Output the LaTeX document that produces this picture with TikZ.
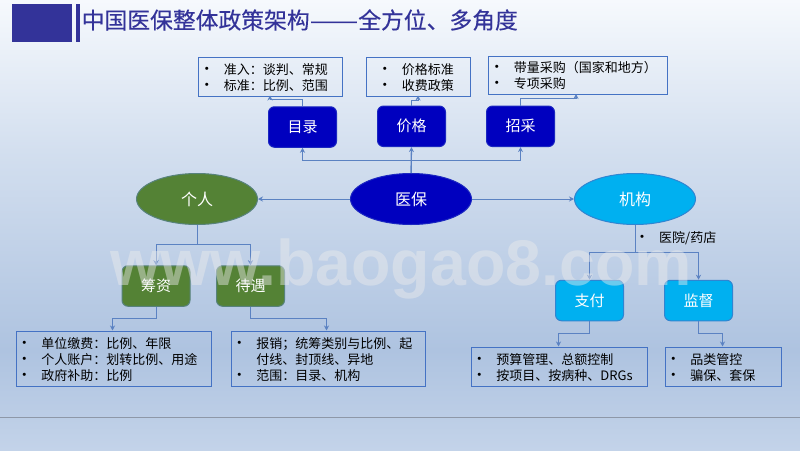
\documentclass[tikz,border=0pt]{standalone}
\usepackage{fontspec}
\setmainfont{Noto Sans CJK SC}
\newfontfamily\wmfont{Liberation Sans}
\newfontfamily\titlefont[FakeBold=0.25]{Noto Sans CJK SC}
\usetikzlibrary{arrows.meta,shapes.geometric}
\definecolor{navy}{HTML}{333399}
\definecolor{conn}{HTML}{5B82C2}
\definecolor{boxline}{HTML}{4472C4}
\definecolor{dkblue}{HTML}{0000BF}
\definecolor{dkgreen}{HTML}{548235}
\definecolor{skyb}{HTML}{00B0F0}
\definecolor{bg0}{HTML}{F6F9FD}
\definecolor{bg1}{HTML}{D3DFEF}
\definecolor{bg2}{HTML}{AEC3E0}
\definecolor{bg3}{HTML}{C3D3E9}
\definecolor{rulegray}{HTML}{8E98A8}
\newlength{\itmind}\setlength{\itmind}{20pt}
\newcommand{\bulletmark}{\hbox to \itmind{\hspace{-4.5pt}{\fontsize{15}{16}\selectfont\textbullet}\hfil}}
\newcommand{\itm}[1]{\par\noindent\bulletmark #1}
\newcommand{\itmcont}[1]{\par\noindent\hspace*{\itmind}#1}
\newcommand{\itmend}[1]{\par\vspace{#1}}
\tikzset{
  x=1pt,y=-1pt,
  infobox/.style={draw=boxline,line width=0.8pt,rectangle,anchor=north west,inner ysep=0pt,inner xsep=5.5pt,align=left,font=\fontsize{13}{16}\selectfont,text=black,minimum height=#1},
  mainell/.style={ellipse,minimum width=121pt,minimum height=51pt,inner sep=0pt,text=white,font=\fontsize{16}{18}\selectfont,line width=1pt},
  mainbox/.style={rectangle,rounded corners=6pt,minimum width=68pt,minimum height=40.5pt,inner sep=0pt,text=white,font=\fontsize{15}{18}\selectfont,line width=1pt},
  blueset/.style={fill=dkblue,draw=dkblue!70!conn},
  greenset/.style={fill=dkgreen,draw=dkgreen!50!conn},
  skyset/.style={fill=skyb,draw=skyb!30!boxline},
  link/.style={draw=conn,line width=0.9pt,-{Stealth[length=5pt,width=5pt]}}
}
\begin{document}
\begin{tikzpicture}
\useasboundingbox (0,0) rectangle (800,450);
% background
\shade[top color=bg0,bottom color=bg1] (0,0) rectangle (800,150.5);
\shade[top color=bg1,bottom color=bg2] (0,150) rectangle (800,350.5);
\shade[top color=bg2,bottom color=bg3] (0,350) rectangle (800,450);
\draw[draw=rulegray,line width=1.1pt] (0,417.5) -- (800,417.5);
% title
\fill[navy] (12,4) rectangle (72,42);
\fill[navy] (76,4) rectangle (80,42);
\node[anchor=west,inner sep=0pt,text=navy,font=\titlefont\fontsize{22.8}{26}\selectfont] (title) at (81.5,20) {中国医保整体政策架构\scalebox{1.27}[1]{——}全方位、多角度};
% info boxes
\node[infobox=39pt,minimum width=144pt,text width=133pt] (b1) at (198,56.5) {\itm{准入：谈判、常规}\itm{标准：比例、范围}\itmend{2pt}};
\node[infobox=38.5pt,minimum width=103.5pt,text width=72.5pt,inner xsep=15.5pt] (b2) at (366,57) {\itm{价格标准}\itm{收费政策}\itmend{4pt}};
\node[infobox=38.5pt,minimum width=178.5pt,text width=167.5pt] (b3) at (488,55.5) {\itm{带量采购（国家和地方）}\itm{专项采购}\itmend{4pt}};
\node[infobox=55pt,minimum width=195pt,text width=184pt] (b4) at (15.5,330.5) {\itm{单位缴费：比例、年限}\itm{个人账户：划转比例、用途}\itm{政府补助：比例}\itmend{2pt}};
\node[infobox=55pt,minimum width=194pt,text width=183pt] (b5) at (230.5,330.5) {\itm{报销；统筹类别与比例、起}\itmcont{付线、封顶线、异地}\itm{范围：目录、机构}\itmend{2pt}};
\node[infobox=39pt,minimum width=176pt,text width=165pt] (b6) at (470.5,346.5) {\itm{预算管理、总额控制}\itm{按项目、按病种、DRGs}\itmend{2pt}};
\node[infobox=39pt,minimum width=116pt,text width=105pt] (b7) at (664.5,346.5) {\itm{品类管控}\itm{骗保、套保}\itmend{2pt}};
% main nodes
\node[mainell,greenset] (geren) at (197,199) {个人};
\node[mainell,blueset] (yibao) at (411,199) {医保};
\node[mainell,skyset] (jigou) at (635,199) {机构};
\node[mainbox,blueset] (mulu) at (302.5,127) {目录};
\node[mainbox,blueset] (jiage) at (411.5,126.3) {价格};
\node[mainbox,blueset] (zhaocai) at (520.5,126.3) {招采};
\node[mainbox,greenset] (chouzi) at (156,286) {筹资};
\node[mainbox,greenset] (daiyu) at (250.5,286) {待遇};
\node[mainbox,skyset] (zhifu) at (589.5,300.5) {支付};
\node[mainbox,skyset] (jiandu) at (698.5,300.5) {监督};
\node[anchor=west,inner sep=0pt,font=\fontsize{13}{16}\selectfont] (yy) at (639,238.5) {\bulletmark 医院/药店};
% connector ends on the boxes
\coordinate (b1in) at (270,95.5);
\coordinate (b2in) at (418,95.5);
\coordinate (b3in) at (576,94);
\coordinate (b4in) at (112.5,330.5);
\coordinate (b5in) at (326.5,330.5);
\coordinate (b6in) at (558.5,346.5);
\coordinate (b7in) at (722.5,346.5);
% connectors
\draw[link] (yibao.west) -- (geren.east);
\draw[link] (yibao.east) -- (jigou.west);
\draw[link] (yibao.north) -- ++(0,-13) -| (mulu.south);
\draw[link,line width=1.3pt] (yibao.north) -- (jiage.south);
\draw[link] (yibao.north) -- ++(0,-13) -| (zhaocai.south);
\draw[link] (mulu.north) |- ++(-32.5,-7) -- (b1in);
\draw[link] (jiage.north) |- ++(6.5,-5) -- (b2in);
\draw[link] (zhaocai.north) |- ++(55.5,-7) -- (b3in);
\draw[link] (geren.south) -- ++(0,19) -| (chouzi.north);
\draw[link] (geren.south) -- ++(0,19) -| (daiyu.north);
\draw[link] (jigou.south) -- ++(0,27) -| (zhifu.north);
\draw[link] (jigou.south) -- ++(0,27) -| (jiandu.north);
\draw[link] (chouzi.south) |- ++(-43.5,12) -- (b4in);
\draw[link] (daiyu.south) |- ++(76,12) -- (b5in);
\draw[link] (zhifu.south) |- ++(-31,12) -- (b6in);
\draw[link] (jiandu.south) |- ++(24,12) -- (b7in);
% watermark
\node[anchor=base west,inner sep=0pt,text=white!85!gray,opacity=0.45,font=\wmfont\bfseries\fontsize{64.5}{70}\selectfont] (wm) at (110,285) {www.baogao8.com};
\end{tikzpicture}
\end{document}
